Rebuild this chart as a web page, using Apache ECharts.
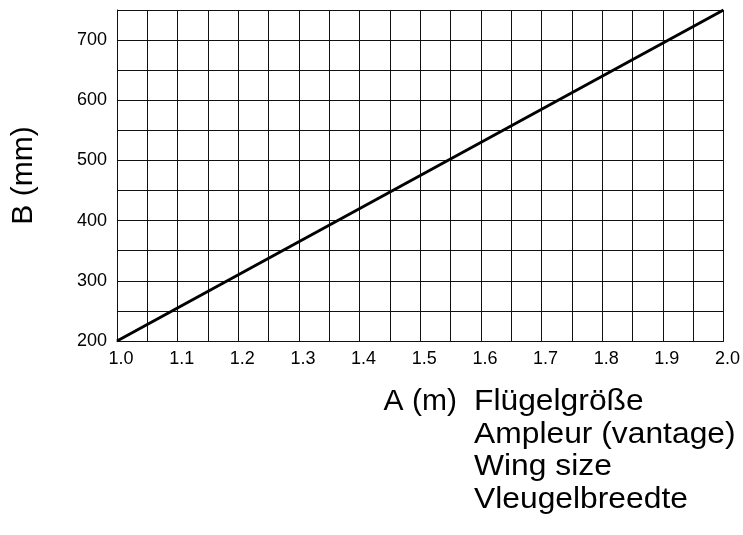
<!DOCTYPE html>
<html>
<head>
<meta charset="utf-8">
<script src="https://cdn.jsdelivr.net/npm/echarts@6/dist/echarts.min.js"></script>
<style>
  html, body { margin: 0; padding: 0; background: #fff; }
  #main { width: 743px; height: 535px; }
</style>
</head>
<body>
<div id="main"></div>
<script>
// wing size A (m) vs B (mm)
var wingSize = [1.0, 2.0];
var bValues = [200, 750];
var xName = 'A (m)';
var yName = 'B (mm)';
var translations = ['Flügelgröße', 'Ampleur (vantage)', 'Wing size', 'Vleugelbreedte'];

const Chart = echarts.init(document.getElementById('main'), null, { renderer: 'canvas' });

var font = 'Liberation Sans, Arial, sans-serif';
var gridColor = '#111';

var option = {
    animation: false,
    grid: { left: 117, right: 19, top: 10, bottom: 194, containLabel: false },
    xAxis: {
        type: 'value',
        min: 1.0,
        max: 2.0,
        interval: 0.05,
        name: xName,
        nameLocation: 'middle',
        nameGap: 46,
        nameTextStyle: { color: '#000', fontSize: 30, fontFamily: font },
        axisLine: { show: true, lineStyle: { color: gridColor, width: 1 } },
        axisTick: { show: false },
        axisLabel: {
            color: '#000',
            fontSize: 18,
            fontFamily: font,
            margin: 9,
            padding: [0, 0, 0, 8],
            formatter: function (v) {
                // label only every 0.1
                return Math.round(v * 100) % 10 === 0 ? v.toFixed(1) : '';
            }
        },
        splitLine: { show: true, lineStyle: { color: gridColor, width: 1 } }
    },
    yAxis: {
        type: 'value',
        min: 200,
        max: 750,
        interval: 50,
        name: yName,
        nameLocation: 'middle',
        nameGap: 78,
        nameTextStyle: { color: '#000', fontSize: 30, fontFamily: font },
        axisLine: { show: true, lineStyle: { color: gridColor, width: 1 } },
        axisTick: { show: false },
        axisLabel: {
            color: '#000',
            fontSize: 18,
            fontFamily: font,
            margin: 10,
            formatter: function (v) {
                return v % 100 === 0 ? String(v) : '';
            }
        },
        splitLine: { show: true, lineStyle: { color: gridColor, width: 1 } }
    },
    graphic: [{
        type: 'text',
        left: 474,
        top: 386,
        scaleX: 1.06,
        style: {
            text: translations.join('\n'),
            fill: '#000',
            font: '30px ' + font,
            lineHeight: 32.4
        }
    }],
    series: [{
        type: 'line',
        data: wingSize.map(function (a, i) { return [a, bValues[i]]; }),
        symbol: 'none',
        lineStyle: { color: '#000', width: 3 }
    }]
};
Chart.setOption(option, true);
</script>
</body>
</html>
